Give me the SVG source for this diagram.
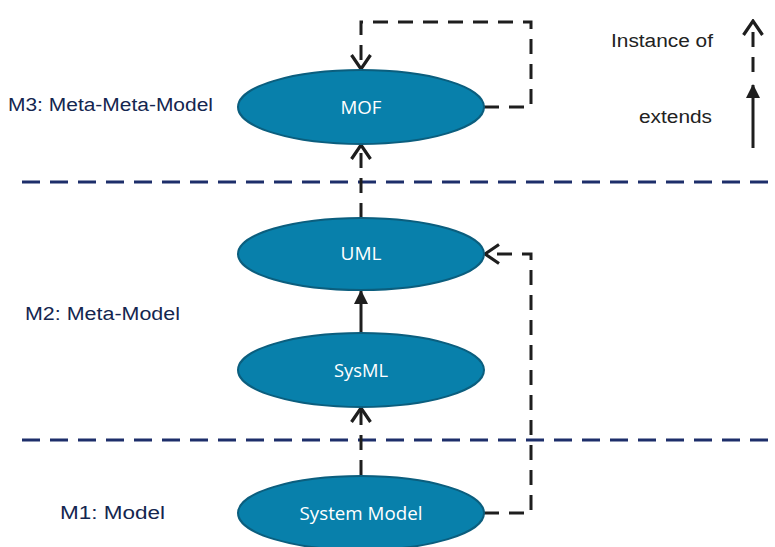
<svg xmlns="http://www.w3.org/2000/svg" width="775" height="547" viewBox="0 0 775 547">
<style>
.node ellipse{fill:#0880ab;stroke:#0b5e7e;stroke-width:2}
.node text{font-family:"Open Sans","Noto Sans",sans-serif;font-size:18px;fill:#fff;text-anchor:middle}
.lvl{font-family:"Liberation Sans",Arial,sans-serif;font-size:18px;fill:#14264f}
.leg{font-family:"Liberation Sans",Arial,sans-serif;font-size:18px;fill:#222}
.sep{stroke:#1d2e6a;stroke-width:3;stroke-dasharray:18 10;fill:none}
.inst{stroke:#1e1e1e;stroke-width:3;stroke-dasharray:15 10;fill:none;marker-end:url(#open)}
.ext{stroke:#1e1e1e;stroke-width:3;fill:none;marker-end:url(#filled)}
</style>
<defs>
<marker id="open" viewBox="0 0 18 22" refX="16" refY="11" markerWidth="18" markerHeight="22" markerUnits="userSpaceOnUse" orient="auto">
<path d="M2,1.5 L16,11 L2,20.5" fill="none" stroke="#1e1e1e" stroke-width="3.2"/>
</marker>
<marker id="filled" viewBox="0 0 14 14" refX="13" refY="7" markerWidth="14" markerHeight="14" markerUnits="userSpaceOnUse" orient="auto">
<path d="M0,0 L14,7 L0,14 Z" fill="#1e1e1e"/>
</marker>
</defs>
<g id="separators">
<line class="sep" x1="22" y1="182" x2="775" y2="182"/>
<line class="sep" x1="22" y1="440" x2="775" y2="440"/>
</g>
<g id="levels">
<text class="lvl" x="8" y="111" textLength="205" lengthAdjust="spacingAndGlyphs">M3: Meta-Meta-Model</text>
<text class="lvl" x="25" y="320" textLength="155" lengthAdjust="spacingAndGlyphs">M2: Meta-Model</text>
<text class="lvl" x="60" y="519" textLength="105" lengthAdjust="spacingAndGlyphs">M1: Model</text>
</g>
<g id="connectors">
<path class="inst" d="M484,107 H531 V22 H361 V69"/>
<path class="inst" d="M361,218 V145"/>
<path class="ext" d="M361,332 V291"/>
<path class="inst" d="M361,475 V408"/>
<path class="inst" d="M484,513 H531 V254 H485"/>
</g>
<g id="node-mof" class="node"><ellipse cx="361" cy="107" rx="123" ry="37"/><text x="361" y="114" textLength="41" lengthAdjust="spacingAndGlyphs">MOF</text></g>
<g id="node-uml" class="node"><ellipse cx="361" cy="254" rx="123" ry="36"/><text x="361" y="260" textLength="41" lengthAdjust="spacingAndGlyphs">UML</text></g>
<g id="node-sysml" class="node"><ellipse cx="361" cy="370" rx="123" ry="37"/><text x="361" y="377" textLength="54" lengthAdjust="spacingAndGlyphs">SysML</text></g>
<g id="node-system-model" class="node"><ellipse cx="361" cy="513" rx="123" ry="37"/><text x="361" y="520" textLength="123" lengthAdjust="spacingAndGlyphs">System Model</text></g>
<g id="legend">
<text class="leg" x="611" y="47" textLength="102" lengthAdjust="spacingAndGlyphs">Instance of</text>
<text class="leg" x="639" y="123" textLength="73" lengthAdjust="spacingAndGlyphs">extends</text>
<path class="inst" d="M753,72 V21"/>
<path class="ext" d="M753,148 V85"/>
</g>
</svg>
